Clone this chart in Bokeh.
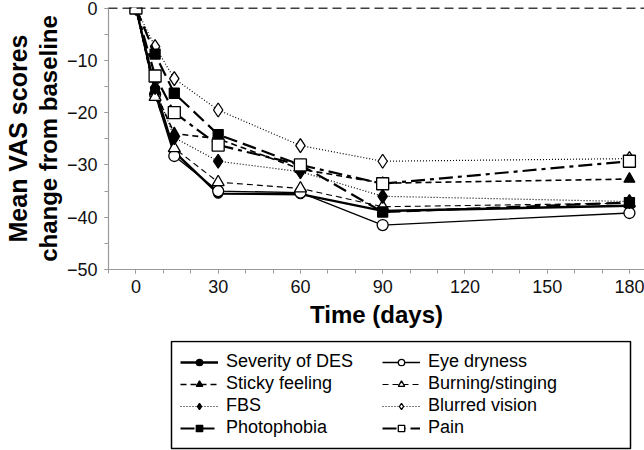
from bokeh.plotting import figure
from bokeh.layouts import column
from bokeh.models import FixedTicker, Legend, LegendItem, Range1d, Span, BoxAnnotation, Title
from bokeh.embed import file_html
from bokeh.resources import INLINE

days = [0, 7, 14, 30, 60, 90, 180]
severity = [0, -15.5, -27.5, -35.5, -35.6, -38.8, -37.8]
eye_dryness = [0, -16.5, -28.3, -35.0, -35.3, -41.5, -39.2]
sticky = [0, -16.0, -24.0, -25.0, -30.8, -33.5, -32.7]
burning = [0, -17.0, -26.8, -33.3, -34.5, -38.0, -37.3]
fbs = [0, -15.2, -24.8, -29.3, -31.3, -36.0, -37.0]
blurred = [0, -7.4, -13.5, -19.5, -26.3, -29.3, -28.8]
photophobia = [0, -8.8, -16.3, -24.2, -30.0, -39.0, -37.2]
pain = [0, -13.0, -20.0, -26.2, -30.0, -33.6, -29.3]

x_major = [0, 30, 60, 90, 120, 150, 180]
x_minor = [-10, 0, 10, 20, 30, 40, 50, 60, 70, 80, 90, 100, 110, 120, 130, 140, 150, 160, 170, 180]
y_major = [-50, -40, -30, -20, -10, 0]
y_minor = [-50, -45, -40, -35, -30, -25, -20, -15, -10, -5, 0]

FONT = "Liberation Sans"

p = figure(width=644, height=340, output_backend="svg", toolbar_location=None,
           x_range=Range1d(-10, 185.5), y_range=Range1d(-50, 0.1),
           min_border_left=108, min_border_right=0, min_border_top=7,
           min_border_bottom=71)
p.outline_line_color = None
p.xgrid.visible = False
p.ygrid.visible = False

series = [
    ("Severity of DES", severity, dict(line_width=2.4), "circle", "black", 9),
    ("Eye dryness", eye_dryness, dict(line_width=1.3), "circle", "white", 11),
    ("Sticky feeling", sticky, dict(line_width=1.6, line_dash="6 4"), "triangle", "black", 11),
    ("Burning/stinging", burning, dict(line_width=1.1, line_dash="6 4"), "triangle", "white", 12),
    ("FBS", fbs, dict(line_width=1.2, line_dash="1 2"), "diamond", "black", 14),
    ("Blurred vision", blurred, dict(line_width=1.2, line_dash="1 2"), "diamond", "white", 14),
    ("Photophobia", photophobia, dict(line_width=2.2, line_dash="14 6"), "square", "black", 10),
    ("Pain", pain, dict(line_width=2.2, line_dash="14 5 4 5"), "square", "white", 12),
]

# legend panel: a second figure (no axes) whose ranges keep its copies of the series out of view
lp = figure(width=644, height=110, output_backend="svg", toolbar_location=None,
            x_range=Range1d(1000, 1001), y_range=Range1d(1000, 1001),
            x_axis_location=None, y_axis_location=None,
            min_border_left=0, min_border_right=0, min_border_top=0,
            min_border_bottom=0)
lp.grid.visible = False
lp.outline_line_color = None

items = {}
for name, vals, lstyle, marker, fill, size in series:
    p.line(days, vals, line_color="black", **lstyle)
    p.scatter(days, vals, marker=marker, size=size, fill_color=fill,
              line_color="black", line_width=1.3)
    lr = lp.line(days, vals, line_color="black", **lstyle)
    sr = lp.scatter(days, vals, marker=marker, size=size, fill_color=fill,
                    line_color="black", line_width=1.3)
    items[name] = LegendItem(label=name, renderers=[lr, sr])

# column-major order so that rows read as in the reference
order = ["Severity of DES", "Sticky feeling", "FBS", "Photophobia",
         "Eye dryness", "Burning/stinging", "Blurred vision", "Pain"]

p.add_layout(Span(location=0, dimension="width", line_color="black",
                  line_width=1.6, line_dash="9 5"))

p.xaxis.ticker = FixedTicker(ticks=x_major, minor_ticks=x_minor)
p.yaxis.ticker = FixedTicker(ticks=y_major, minor_ticks=y_minor)
p.yaxis.major_label_overrides = {v: ("\u2212" + str(-v) if v < 0 else str(v)) for v in y_major}

for ax in (p.xaxis, p.yaxis):
    ax.axis_line_color = "#9a9a9a"
    ax.axis_line_width = 1.2
    ax.major_tick_line_color = "#9a9a9a"
    ax.minor_tick_line_color = "#9a9a9a"
    ax.major_tick_in = 0
    ax.major_tick_out = 4
    ax.minor_tick_in = 0
    ax.minor_tick_out = 4
    ax.major_label_text_font = FONT
    ax.major_label_text_font_size = "18px"
    ax.major_label_text_color = "#111111"
    ax.axis_label_text_font = FONT
    ax.axis_label_text_font_size = "24px"
    ax.axis_label_text_font_style = "bold"
    ax.axis_label_text_color = "black"

p.xaxis.axis_label = "Time (days)"
p.xaxis.major_label_standoff = 6
p.xaxis.axis_label_standoff = 5
p.yaxis.axis_label = "change from baseline"
p.yaxis.major_label_standoff = 7
p.yaxis.axis_label_standoff = 2

ytitle = Title(text="Mean VAS scores", align="center", text_font=FONT,
               text_font_size="25px", text_font_style="bold", text_color="black",
               standoff=0, offset=0)
p.add_layout(ytitle, "left")

legend = Legend(items=[items[n] for n in order], ncols=2, location=(63, 3),
                glyph_width=38, glyph_height=16, label_height=20,
                label_text_font=FONT, label_text_font_size="18px",
                label_text_color="black",
                label_standoff=8, spacing=1, padding=9, margin=0,
                label_width=155,
                border_line_alpha=0, background_fill_alpha=0)
lp.add_layout(legend, "center")
lp.add_layout(BoxAnnotation(left=63, right=522, bottom=2, top=109,
                            left_units="screen", right_units="screen",
                            bottom_units="screen", top_units="screen",
                            fill_alpha=0, line_color="black", line_width=1.5,
                            line_alpha=1))

layout = column(p, lp, spacing=0)
open("out.html", "w").write(file_html(layout, INLINE))
